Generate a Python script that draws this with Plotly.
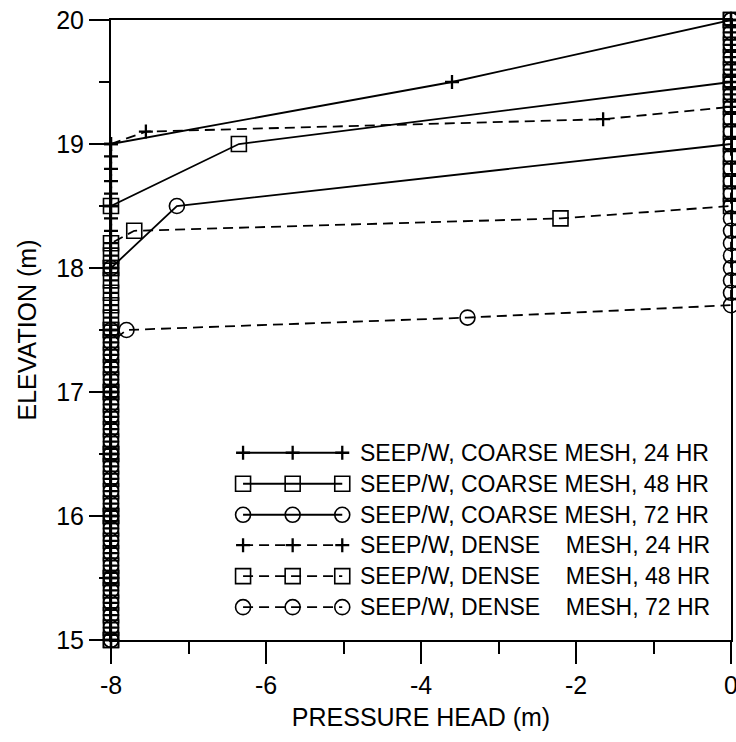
import plotly.graph_objects as go

# Mesh node elevations (m)
elev_coarse = [15.0, 15.5, 16.0, 16.5, 17.0, 17.5, 18.0, 18.5, 19.0, 19.5, 20.0]
elev_dense = [
    15.0, 15.1, 15.2, 15.3, 15.4, 15.5, 15.6, 15.7, 15.8, 15.9,
    16.0, 16.1, 16.2, 16.3, 16.4, 16.5, 16.6, 16.7, 16.8, 16.9,
    17.0, 17.1, 17.2, 17.3, 17.4, 17.5, 17.6, 17.7, 17.8, 17.9,
    18.0, 18.1, 18.2, 18.3, 18.4, 18.5, 18.6, 18.7, 18.8, 18.9,
    19.0, 19.1, 19.2, 19.3, 19.4, 19.5, 19.6, 19.7, 19.8, 19.9,
    20.0,
]

# Pressure head (m) at each node, coarse mesh
head_coarse_24 = [-8, -8, -8, -8, -8, -8, -8, -8, -8, -3.6, 0]
head_coarse_48 = [-8, -8, -8, -8, -8, -8, -8, -8, -6.35, 0, 0]
head_coarse_72 = [-8, -8, -8, -8, -8, -8, -8, -7.15, 0, 0, 0]

# Pressure head (m) at each node, dense mesh
head_dense_24 = [
    -8, -8, -8, -8, -8, -8, -8, -8, -8, -8,
    -8, -8, -8, -8, -8, -8, -8, -8, -8, -8,
    -8, -8, -8, -8, -8, -8, -8, -8, -8, -8,
    -8, -8, -8, -8, -8, -8, -8, -8, -8, -8,
    -8, -7.55, -1.65, 0, 0, 0, 0, 0, 0, 0,
    0,
]
head_dense_48 = [
    -8, -8, -8, -8, -8, -8, -8, -8, -8, -8,
    -8, -8, -8, -8, -8, -8, -8, -8, -8, -8,
    -8, -8, -8, -8, -8, -8, -8, -8, -8, -8,
    -8, -8, -8, -7.7, -2.2, 0, 0, 0, 0, 0,
    0, 0, 0, 0, 0, 0, 0, 0, 0, 0,
    0,
]
head_dense_72 = [
    -8, -8, -8, -8, -8, -8, -8, -8, -8, -8,
    -8, -8, -8, -8, -8, -8, -8, -8, -8, -8,
    -8, -8, -8, -8, -8, -7.8, -3.4, 0, 0, 0,
    0, 0, 0, 0, 0, 0, 0, 0, 0, 0,
    0, 0, 0, 0, 0, 0, 0, 0, 0, 0,
    0,
]

# Axis tick labels
x_tick_vals = [-8, -6, -4, -2, 0]
x_tick_text = ["-8", "-6", "-4", "-2", "0"]
y_tick_vals = [15, 16, 17, 18, 19, 20]
y_tick_text = ["15", "16", "17", "18", "19", "20"]

series_names = [
    "SEEP/W, COARSE MESH, 24 HR",
    "SEEP/W, COARSE MESH, 48 HR",
    "SEEP/W, COARSE MESH, 72 HR",
    "SEEP/W, DENSE\u00a0\u00a0\u00a0 MESH, 24 HR",
    "SEEP/W, DENSE\u00a0\u00a0\u00a0 MESH, 48 HR",
    "SEEP/W, DENSE\u00a0\u00a0\u00a0 MESH, 72 HR",
]

FONT = "Liberation Sans, Arial, Helvetica, sans-serif"
DASH = "10px,6px"
styles = [
    dict(symbol="cross-thin-open", size=10, dash="solid"),
    dict(symbol="square-open", size=15, dash="solid"),
    dict(symbol="circle-open", size=15, dash="solid"),
    dict(symbol="cross-thin-open", size=10, dash=DASH),
    dict(symbol="square-open", size=15, dash=DASH),
    dict(symbol="circle-open", size=15, dash=DASH),
]
series = [
    (head_coarse_24, elev_coarse),
    (head_coarse_48, elev_coarse),
    (head_coarse_72, elev_coarse),
    (head_dense_24, elev_dense),
    (head_dense_48, elev_dense),
    (head_dense_72, elev_dense),
]


def marker_style(st):
    return dict(symbol=st["symbol"], size=st["size"], color="black",
                line=dict(color="black",
                          width=2.3 if "cross" in st["symbol"] else 1.6))


fig = go.Figure()

for (xs, ys), st, name in zip(series, styles, series_names):
    fig.add_trace(go.Scatter(
        x=xs, y=ys, mode="lines+markers", name=name, showlegend=False,
        line=dict(color="black", width=1.8, dash=st["dash"]),
        marker=marker_style(st),
        cliponaxis=False,
    ))

# Key drawn inside the plot area on an overlay axis (fractions of the plot box)
key_x = [0.213, 0.293, 0.373]
key_rows = [0.302, 0.252, 0.202, 0.153, 0.103, 0.053]
key_text_x = 0.398
for row_y, st, name in zip(key_rows, styles, series_names):
    fig.add_trace(go.Scatter(
        x=key_x, y=[row_y] * 3, mode="lines+markers", showlegend=False,
        xaxis="x2", yaxis="y2", hoverinfo="skip",
        line=dict(color="black", width=1.8, dash=st["dash"]),
        marker=marker_style(st),
        cliponaxis=False,
    ))
    fig.add_annotation(
        x=key_text_x, y=row_y, xref="x2", yref="y2", text=name, showarrow=False,
        xanchor="left", yanchor="middle",
        font=dict(family=FONT, size=23, color="black"),
    )

fig.update_layout(
    width=736, height=742,
    margin=dict(l=111, r=5, t=20, b=102),
    paper_bgcolor="white", plot_bgcolor="white",
    template="none",
    font=dict(family=FONT, color="black", size=25),
    xaxis=dict(
        range=[-8, 0], tickvals=x_tick_vals, ticktext=x_tick_text,
        showgrid=False, zeroline=False,
        ticks="outside", ticklen=22, tickwidth=2, tickcolor="black",
        showline=True, linewidth=2, linecolor="black", mirror=True,
        minor=dict(dtick=1, ticks="outside", ticklen=12, tickwidth=2,
                   tickcolor="black", showgrid=False),
        tickfont=dict(size=25), automargin=False, ticklabeloverflow="allow",
        title=dict(text="PRESSURE HEAD (m)", font=dict(size=25), standoff=10),
    ),
    yaxis=dict(
        range=[15, 20], tickvals=y_tick_vals, ticktext=y_tick_text,
        showgrid=False, zeroline=False,
        ticks="outside", ticklen=20, tickwidth=2, tickcolor="black",
        showline=True, linewidth=2, linecolor="black", mirror=True,
        minor=dict(dtick=0.5, ticks="outside", ticklen=10, tickwidth=2,
                   tickcolor="black", showgrid=False),
        tickfont=dict(size=25), automargin=False, ticklabeloverflow="allow",
        title=dict(text="ELEVATION (m)", font=dict(size=25), standoff=12),
    ),
    xaxis2=dict(overlaying="x", range=[0, 1], visible=False, domain=[0, 1]),
    yaxis2=dict(overlaying="y", range=[0, 1], visible=False, domain=[0, 1]),
)

fig.write_html("out.html")
